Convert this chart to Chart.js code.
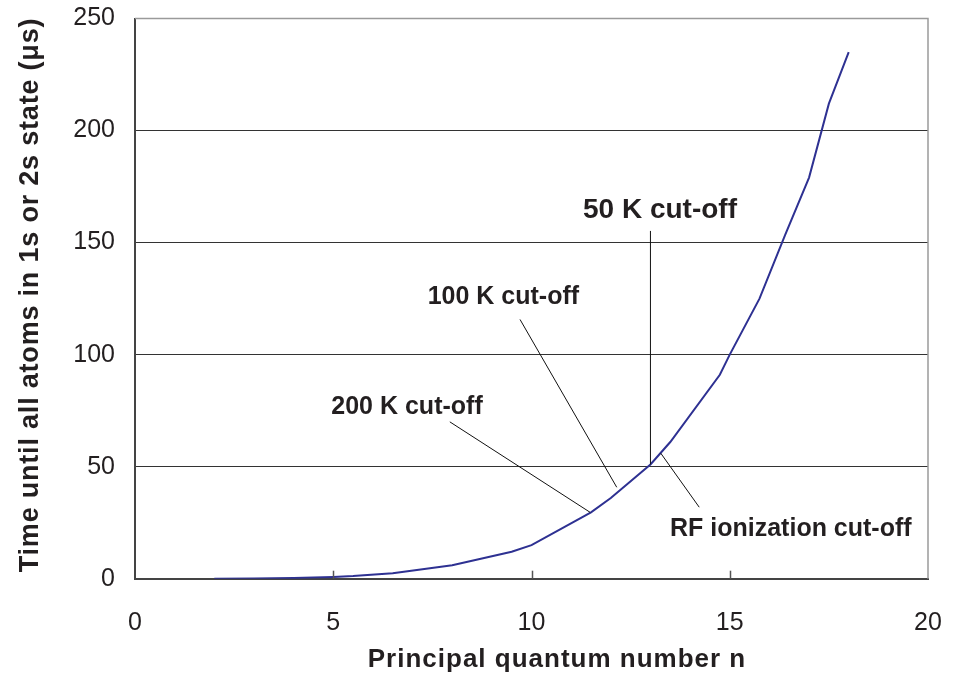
<!DOCTYPE html>
<html>
<head>
<meta charset="utf-8">
<script src="https://cdn.jsdelivr.net/npm/chart.js@4"></script>
<style>
  html, body { margin: 0; padding: 0; background: #fff; }
  #wrap { width: 956px; height: 678px; }
</style>
</head>
<body>
<div id="wrap"><canvas id="myChart" width="956" height="678"></canvas></div>
<script>
// principal quantum number n and time until all atoms relaxed (us)
const nValues = [2, 3, 4, 5, 5.5, 6.5, 8, 9.5, 10, 11.5, 12, 13, 13.5, 14.75, 15, 15.75, 16.4, 17, 17.5, 18];
const times = [0, 0.1, 0.3, 0.8, 1.2, 2.4, 6, 12, 15, 29.6, 36, 51, 61, 91, 100, 125, 153.5, 179, 212, 235];

const xTicks = [0, 5, 10, 15, 20];
const yTicks = [0, 50, 100, 150, 200, 250];

// cut-off labels: text, label position, pointer line (data units)
const cutLabels = ['50 K cut-off', '100 K cut-off', '200 K cut-off', 'RF ionization cut-off'];
const cutLabelX = [13.24, 9.29, 6.86, 16.54];
const cutLabelY = [164.4, 125.6, 76.5, 22.0];
const cutLineFrom = [[13.0, 155.2], [9.71, 115.7], [7.94, 70.0], [13.26, 56.0]];
const cutLineTo = [[13.0, 51.0], [12.15, 40.8], [11.48, 29.6], [14.23, 31.9]];
const cutFontSize = [28, 25, 25, 25];

const textColor = '#231f20';
const fontFamily = '"Liberation Sans", Arial, Helvetica, sans-serif';

const points = nValues.map((n, i) => ({ x: n, y: times[i] }));

const framePlugin = {
    id: 'frame',
    afterDatasetsDraw(chart) {
        const ctx = chart.ctx;
        const a = chart.chartArea;
        const xs = chart.scales.x;
        const ys = chart.scales.y;
        ctx.save();
        // top and right frame
        ctx.strokeStyle = '#9a9a9a';
        ctx.lineWidth = 1.5;
        ctx.beginPath();
        ctx.moveTo(a.left, a.top);
        ctx.lineTo(a.right, a.top);
        ctx.lineTo(a.right, a.bottom);
        ctx.stroke();
        // x tick marks pointing inward
        ctx.strokeStyle = '#555';
        ctx.lineWidth = 1.5;
        xTicks.slice(1, -1).forEach(v => {
            const px = Math.round(xs.getPixelForValue(v)) + 0.5;
            ctx.beginPath();
            ctx.moveTo(px, a.bottom);
            ctx.lineTo(px, a.bottom - 8);
            ctx.stroke();
        });
        // cut-off pointers and labels
        ctx.strokeStyle = '#111';
        ctx.lineWidth = 1;
        cutLabels.forEach((t, i) => {
            ctx.beginPath();
            ctx.moveTo(xs.getPixelForValue(cutLineFrom[i][0]), ys.getPixelForValue(cutLineFrom[i][1]));
            ctx.lineTo(xs.getPixelForValue(cutLineTo[i][0]), ys.getPixelForValue(cutLineTo[i][1]));
            ctx.stroke();
        });
        ctx.fillStyle = textColor;
        ctx.textAlign = 'center';
        ctx.textBaseline = 'middle';
        cutLabels.forEach((t, i) => {
            ctx.font = 'bold ' + cutFontSize[i] + 'px ' + fontFamily;
            ctx.fillText(t, xs.getPixelForValue(cutLabelX[i]), ys.getPixelForValue(cutLabelY[i]));
        });
        // axis titles
        ctx.font = 'bold 26px ' + fontFamily;
        ctx.letterSpacing = '1px';
        ctx.fillText('Principal quantum number n', 557, 660);
        ctx.translate(31, 295);
        ctx.rotate(-Math.PI / 2);
        ctx.font = 'bold 27px ' + fontFamily;
        ctx.letterSpacing = '0.8px';
        ctx.fillText('Time until all atoms in 1s or 2s state (\u03bcs)', 0, 0);
        ctx.restore();
    }
};

new Chart(document.getElementById('myChart').getContext('2d'), {
    type: 'scatter',
    data: {
        datasets: [{
            data: points,
            showLine: true,
            borderColor: '#2e3192',
            borderWidth: 2,
            pointRadius: 0,
            tension: 0
        }]
    },
    options: {
        responsive: false,
        animation: false,
        layout: { padding: { top: 18.5, right: 28, bottom: 0, left: 0 } },
        plugins: { legend: { display: false }, tooltip: { enabled: false } },
        scales: {
            x: {
                type: 'linear',
                min: 0,
                max: 20,
                afterBuildTicks: s => { s.ticks = xTicks.map(v => ({ value: v })); },
                afterFit: s => { s.height = 99.3; s.paddingLeft = 0; s.paddingRight = 0; },
                grid: { display: false, drawTicks: false },
                border: { color: '#444', width: 2 },
                ticks: { padding: 29, color: textColor, font: { family: fontFamily, size: 25 } }
            },
            y: {
                type: 'linear',
                min: 0,
                max: 250,
                afterBuildTicks: s => { s.ticks = yTicks.map(v => ({ value: v })); },
                afterFit: s => { s.width = 135; s.paddingTop = 0; s.paddingBottom = 0; },
                grid: {
                    drawTicks: false,
                    color: c => (c.tick.value === 0 ? 'rgba(0,0,0,0)' : (c.tick.value === 250 ? '#9a9a9a' : '#333')),
                    lineWidth: 1
                },
                border: { color: '#444', width: 2 },
                ticks: { padding: 20, color: textColor, font: { family: fontFamily, size: 25 } }
            }
        }
    },
    plugins: [framePlugin]
});
</script>
</body>
</html>
